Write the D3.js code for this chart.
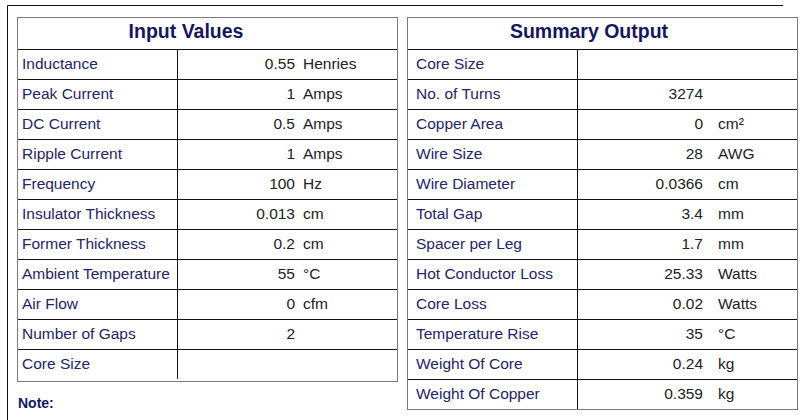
<!DOCTYPE html>
<html>
<head>
<meta charset="utf-8">
<script src="https://cdn.jsdelivr.net/npm/d3@7"></script>
<style>
  body { margin: 0; background: #fff; }
  svg { display: block; font-family: Arial, "Liberation Sans", sans-serif; }
</style>
</head>
<body>
<svg id="sheet" width="809" height="420"></svg>
<script>
// table contents
var inputLabels = ['Inductance', 'Peak Current', 'DC Current', 'Ripple Current', 'Frequency',
    'Insulator Thickness', 'Former Thickness', 'Ambient Temperature', 'Air Flow',
    'Number of Gaps', 'Core Size'];
var inputValues = ['0.55', '1', '0.5', '1', '100', '0.013', '0.2', '55', '0', '2', ''];
var inputUnits = ['Henries', 'Amps', 'Amps', 'Amps', 'Hz', 'cm', 'cm', '°C', 'cfm', '', ''];

var outputLabels = ['Core Size', 'No. of Turns', 'Copper Area', 'Wire Size', 'Wire Diameter',
    'Total Gap', 'Spacer per Leg', 'Hot Conductor Loss', 'Core Loss', 'Temperature Rise',
    'Weight Of Core', 'Weight Of Copper'];
var outputValues = ['', '3274', '0', '28', '0.0366', '3.4', '1.7', '25.33', '0.02', '35', '0.24', '0.359'];
var outputUnits = ['', '', 'cm²', 'AWG', 'cm', 'mm', 'mm', 'Watts', 'Watts', '°C', 'kg', 'kg'];

var svg = d3.select('#sheet'),
    rowH = 30,
    headH = 32,
    labelColor = '#24246a',
    titleColor = '#16165e';

// outer frame (top and left edge only)
svg.append('path')
    .attr('d', 'M7.5 420V5.5H783')
    .attr('fill', 'none')
    .attr('stroke', '#111')
    .attr('stroke-width', 1);

/**
 * Draws one titled two-column table.
 */
function drawTable(opts) {
    var g = svg.append('g'),
        top = 17,
        rows = d3.range(opts.labels.length),
        y = d3.scaleBand()
            .domain(rows)
            .range([top + headH, top + headH + rows.length * rowH])
            .padding(0),
        bottom = y.range()[1];

    // row separators
    g.selectAll('line.row')
        .data(rows)
        .enter().append('line')
        .attr('class', 'row')
        .attr('x1', opts.left).attr('x2', opts.right)
        .attr('y1', function (d) { return Math.round(y(d)) + 0.5; })
        .attr('y2', function (d) { return Math.round(y(d)) + 0.5; })
        .attr('stroke', '#111');

    // column divider
    g.append('line')
        .attr('x1', opts.split + 0.5).attr('x2', opts.split + 0.5)
        .attr('y1', top + headH).attr('y2', bottom)
        .attr('stroke', '#111');

    // outer box
    g.append('rect')
        .attr('x', opts.left + 0.5).attr('y', top + 0.5)
        .attr('width', opts.right - opts.left)
        .attr('height', bottom + opts.extra - top)
        .attr('fill', 'none')
        .attr('stroke', '#7a7a7a');

    g.append('text')
        .attr('x', opts.titleX).attr('y', top + 21)
        .attr('text-anchor', 'middle')
        .attr('font-size', 19.5).attr('font-weight', 'bold')
        .attr('fill', titleColor)
        .text(opts.title);

    g.selectAll('text.label')
        .data(rows)
        .enter().append('text')
        .attr('class', 'label')
        .attr('x', opts.left + opts.pad)
        .attr('y', function (d) { return y(d) + 20; })
        .attr('font-size', 15.5)
        .attr('fill', labelColor)
        .text(function (d) { return opts.labels[d]; });

    g.selectAll('text.value')
        .data(rows)
        .enter().append('text')
        .attr('class', 'value')
        .attr('x', opts.valueX)
        .attr('y', function (d) { return y(d) + 20; })
        .attr('text-anchor', 'end')
        .attr('font-size', 15.5)
        .attr('fill', '#222')
        .text(function (d) { return opts.values[d]; });

    g.selectAll('text.unit')
        .data(rows)
        .enter().append('text')
        .attr('class', 'unit')
        .attr('x', opts.unitX)
        .attr('y', function (d) { return y(d) + 20; })
        .attr('font-size', 15.5)
        .attr('fill', '#222')
        .text(function (d) { return opts.units[d]; });
}

drawTable({
    title: 'Input Values', titleX: 186,
    left: 17, right: 397, split: 177, extra: 2, pad: 5,
    valueX: 295, unitX: 303,
    labels: inputLabels, values: inputValues, units: inputUnits
});

drawTable({
    title: 'Summary Output', titleX: 589,
    left: 407, right: 797, split: 577, extra: 0, pad: 9,
    valueX: 703, unitX: 718,
    labels: outputLabels, values: outputValues, units: outputUnits
});

svg.append('text')
    .attr('x', 18).attr('y', 408)
    .attr('font-size', 14).attr('font-weight', 'bold')
    .attr('fill', titleColor)
    .text('Note:');
</script>
</body>
</html>
